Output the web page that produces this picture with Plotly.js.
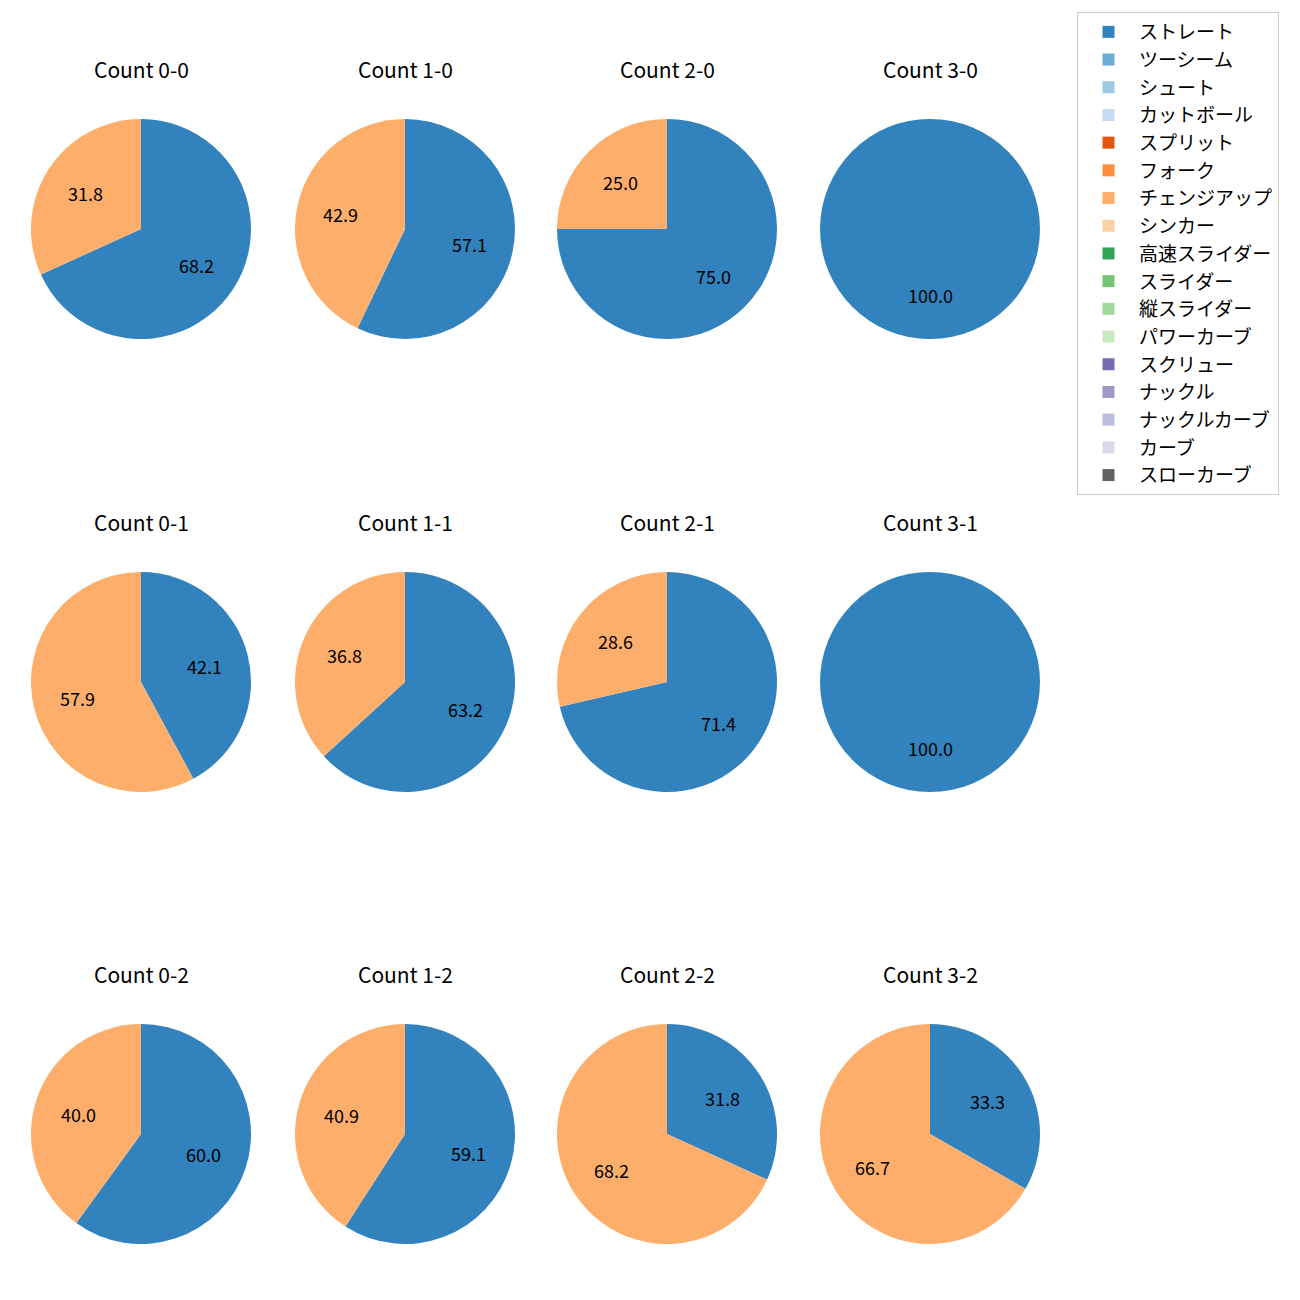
<!DOCTYPE html>
<html>
<head>
<meta charset="utf-8">
<script src="https://cdn.plot.ly/plotly-3.0.1.min.js"></script>
<style>html,body{margin:0;padding:0;background:#fff;}</style>
</head>
<body>
<div id="chart" style="width:1300px;height:1300px;"></div>
<script>
// ---- data ----
var pitchTypes = ['ストレート','ツーシーム','シュート','カットボール','スプリット','フォーク','チェンジアップ','シンカー','高速スライダー','スライダー','縦スライダー','パワーカーブ','スクリュー','ナックル','ナックルカーブ','カーブ','スローカーブ'];
var pitchColors = ['#3182bd','#6baed6','#9ecae1','#c6dbef','#e6550d','#fd8d3c','#fdae6b','#fdd0a2','#31a354','#74c476','#a1d99b','#c7e9c0','#756bb1','#9e9ac8','#bcbddc','#dadaeb','#636363'];
var counts = ['0-0','1-0','2-0','3-0','0-1','1-1','2-1','3-1','0-2','1-2','2-2','3-2'];
var straightPct = [68.2, 57.1, 75.0, 100.0, 42.1, 63.2, 71.4, 100.0, 60.0, 59.1, 31.8, 33.3];
var changeupPct = [31.8, 42.9, 25.0, 0.0, 57.9, 36.8, 28.6, 0.0, 40.0, 40.9, 68.2, 66.7];

// ---- layout geometry ----
var W = 1300, H = 1300;
var colCx = [141, 405, 667, 930];
var rowCy = [229, 682, 1134];
var R = 110;
var FONT = '"Noto Sans CJK JP", "Noto Sans", sans-serif';

var traces = [];
var annotations = [];
counts.forEach(function (c, i) {
  var col = i % 4, row = Math.floor(i / 4);
  var cx = colCx[col], cy = rowCy[row];
  var vals = pitchTypes.map(function (p) {
    if (p === 'ストレート') return straightPct[i];
    if (p === 'チェンジアップ') return changeupPct[i];
    return 0;
  });
  traces.push({
    type: 'pie',
    name: 'Count ' + c,
    labels: pitchTypes,
    values: vals,
    sort: false,
    direction: 'clockwise',
    rotation: 0,
    textinfo: 'none',
    hoverinfo: 'label+value',
    marker: { colors: pitchColors, line: { width: 0 } },
    domain: { x: [(cx - R) / W, (cx + R) / W], y: [1 - (cy + R) / H, 1 - (cy - R) / H] },
    showlegend: i === 0
  });
  // title
  annotations.push({
    xref: 'paper', yref: 'paper', x: cx / W, y: 1 - (cy - 160) / H,
    xanchor: 'center', yanchor: 'middle', showarrow: false,
    text: 'Count ' + c, font: { family: FONT, size: 21, color: '#000' }
  });
  // percentage labels at 0.6 radius of slice mid-angle
  var total = vals.reduce(function (a, b) { return a + b; }, 0);
  var cum = 0;
  vals.forEach(function (v) {
    if (v <= 0) return;
    var mid = (cum + v / 2) / total * 2 * Math.PI;
    cum += v;
    var px = cx + 0.6 * R * Math.sin(mid);
    var py = cy - 0.6 * R * Math.cos(mid);
    annotations.push({
      xref: 'paper', yref: 'paper', x: px / W, y: 1 - py / H,
      xanchor: 'center', yanchor: 'middle', showarrow: false,
      text: v.toFixed(1), font: { family: FONT, size: 18, color: '#000' }
    });
  });
});

var layout = {
  width: W, height: H,
  margin: { l: 0, r: 0, t: 0, b: 0 },
  paper_bgcolor: '#fff',
  font: { family: FONT, color: '#000' },
  showlegend: true,
  legend: {
    x: 1077 / W, y: 1 - 12 / H, xanchor: 'left', yanchor: 'top',
    bgcolor: '#fff', bordercolor: '#cccccc', borderwidth: 1,
    font: { family: FONT, size: 19, color: '#000' },
    itemwidth: 51,
    traceorder: 'normal'
  },
  annotations: annotations
};

Plotly.newPlot('chart', traces, layout, { displayModeBar: false, staticPlot: true });
</script>
</body>
</html>
